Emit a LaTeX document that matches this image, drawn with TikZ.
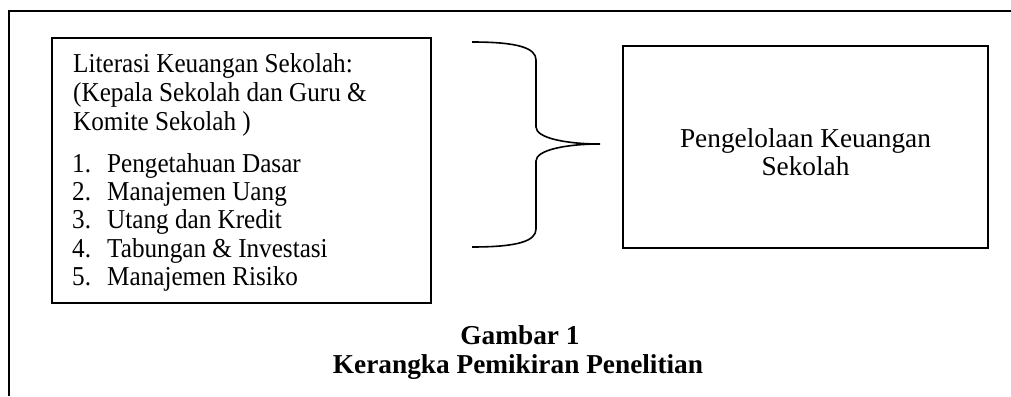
\documentclass[tikz,border=0pt]{standalone}
\usepackage{fontspec}
\setmainfont{Liberation Serif}
\newfontfamily\narrowserif[FakeStretch=0.922]{Liberation Serif}
\begin{document}
\begin{tikzpicture}[x=1pt,y=-1pt,
  frameline/.style={line width=1.8pt},
  boxstyle/.style={draw, line width=1.8pt, inner sep=0pt, minimum width=#1},
  txt/.style={anchor=base west, inner sep=0pt, font=\narrowserif\fontsize{27.3}{28}\selectfont},
  ctxt/.style={anchor=base, inner sep=0pt, font=\fontsize{27.3}{28}\selectfont},
  captxt/.style={anchor=base, inner sep=0pt, font=\fontsize{27.3}{28}\selectfont\bfseries},
  bracestyle/.style={line width=1.6pt}]
\useasboundingbox (0,0) rectangle (1011,396);
% outer open frame (top and left only)
\coordinate (fTL) at (9,11);
\coordinate (fTR) at (1011,11);
\coordinate (fBL) at (9,396);
\draw[frameline] (fTR) -- (fTL) -- (fBL);
% left box
\node[boxstyle=379pt, minimum height=265pt] (lit) at (241.5,170.5) {};
\node[txt] (l1) at (73,73) {Literasi Keuangan Sekolah:};
\node[txt] (l2) at (73,101.5) {(Kepala Sekolah dan Guru \&};
\node[txt] (l3) at (73,130) {Komite Sekolah )};
\node[txt] (n1) at (72,172) {1.};
\node[txt] (i1) at (107,172) {Pengetahuan Dasar};
\node[txt] (n2) at (72,200) {2.};
\node[txt] (i2) at (107,200) {Manajemen Uang};
\node[txt] (n3) at (72,228.5) {3.};
\node[txt] (i3) at (107,228.5) {Utang dan Kredit};
\node[txt] (n4) at (72,257) {4.};
\node[txt] (i4) at (107,257) {Tabungan \& Investasi};
\node[txt] (n5) at (72,285) {5.};
\node[txt] (i5) at (107,285) {Manajemen Risiko};
% right box
\node[boxstyle=365pt, minimum height=202pt] (peng) at (805.5,147) {};
\node[ctxt] (p1) at (805.5,147) {Pengelolaan Keuangan};
\node[ctxt] (p2) at (805.5,175) {Sekolah};
% brace
\draw[bracestyle] (472,42) .. controls (518,42) and (536,48) .. (536,60)
  -- (536,127) .. controls (536,138) and (566,144) .. (600,144)
  .. controls (566,144) and (536,150) .. (536,161)
  -- (536,229) .. controls (536,241) and (518,247) .. (472,247);
% caption
\node[captxt] (c1) at (520,344) {Gambar 1};
\node[captxt] (c2) at (518,373) {Kerangka Pemikiran Penelitian};
\end{tikzpicture}
\end{document}
